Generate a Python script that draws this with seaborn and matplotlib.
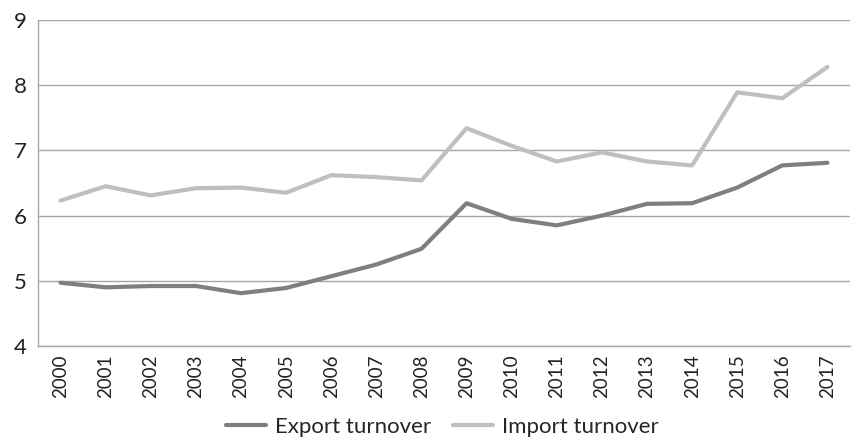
import pandas as pd
import numpy as np
from matplotlib import pyplot as plt
import seaborn as sns

# Data
years = [str(y) for y in range(2000, 2018)]
export_turnover = [4.97, 4.90, 4.92, 4.92, 4.81, 4.89, 5.07, 5.25, 5.49, 6.19,
                   5.95, 5.85, 6.00, 6.18, 6.19, 6.43, 6.77, 6.81]
import_turnover = [6.23, 6.45, 6.31, 6.42, 6.43, 6.35, 6.62, 6.59, 6.54, 7.34,
                   7.07, 6.83, 6.97, 6.83, 6.77, 7.89, 7.80, 8.28]

df = pd.DataFrame({
    'Year': years * 2,
    'pos': list(range(len(years))) * 2,
    'Value': export_turnover + import_turnover,
    'Series': ['Export turnover'] * len(years) + ['Import turnover'] * len(years),
})

sns.set_style('white')
plt.rcParams['font.family'] = ['Lato', 'DejaVu Sans']

fig = plt.figure(figsize=(8.59, 4.46), dpi=100)
ax = fig.add_axes([38 / 859, 1 - 346 / 446, (850 - 38) / 859, (346 - 20) / 446])

sns.lineplot(data=df, x='pos', y='Value', hue='Series',
             palette={'Export turnover': '#7f7f7f', 'Import turnover': '#bfbfbf'},
             linewidth=3, ax=ax, legend=False)

ax.set_xlim(-0.5, len(years) - 0.5)
ax.set_ylim(4, 9)
ax.set_yticks([4, 5, 6, 7, 8, 9])
ax.set_xticks(range(len(years)))
ax.set_xticklabels(years, rotation=90)
ax.set_xticks(np.arange(-0.5, len(years)), minor=True)
ax.tick_params(axis='x', which='major', length=0, labelsize=13.5, pad=6, colors='#222222')
ax.tick_params(axis='x', which='minor', length=5, color='#a6a6a6', width=1)
ax.tick_params(axis='y', length=5, width=1, labelsize=16, pad=3, colors='#222222')
ax.tick_params(axis='y', color='#a6a6a6')
ax.grid(axis='y', color='#a6a6a6', linewidth=1)
ax.set_axisbelow(True)
for s in ['top', 'right']:
    ax.spines[s].set_visible(False)
for s in ['left', 'bottom']:
    ax.spines[s].set_color('#a6a6a6')
    ax.spines[s].set_linewidth(1)
ax.set_xlabel('')
ax.set_ylabel('')

handles = [plt.Line2D([], [], color='#7f7f7f', lw=3),
           plt.Line2D([], [], color='#bfbfbf', lw=3)]
fig.legend(handles, ['Export turnover', 'Import turnover'], loc='lower center',
           bbox_to_anchor=(0.515, -0.025), ncol=2, frameon=False, fontsize=16,
           handlelength=1.8, columnspacing=1.0, handletextpad=0.4)

fig.savefig('out.png', dpi=100)
